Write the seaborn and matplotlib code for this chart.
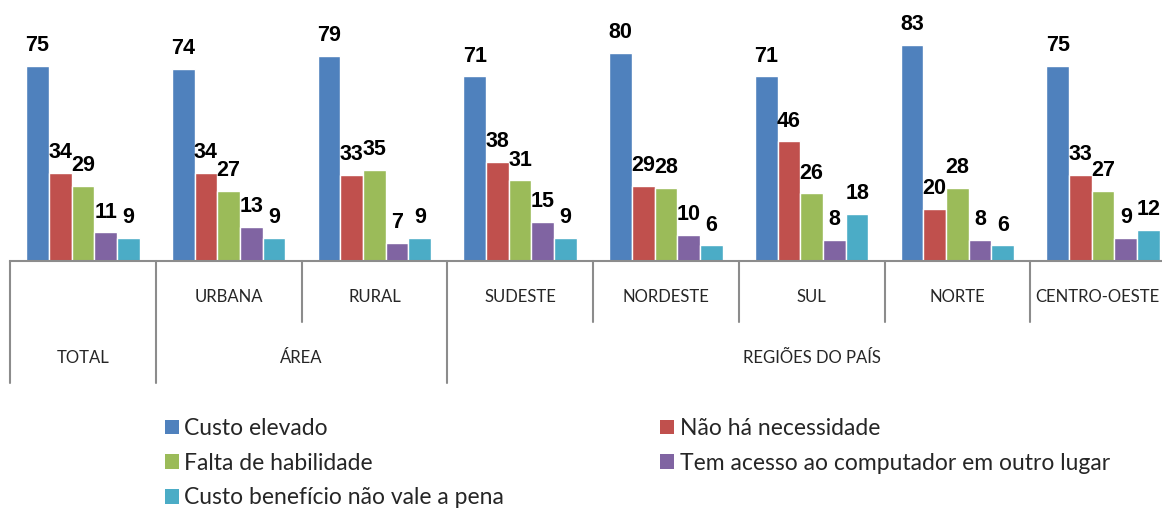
import matplotlib
matplotlib.use("Agg")
import matplotlib.pyplot as plt
import matplotlib.transforms as mtransforms
from matplotlib.patches import Patch
import seaborn as sns
import pandas as pd

categories = ["TOTAL", "URBANA", "RURAL", "SUDESTE", "NORDESTE", "SUL", "NORTE", "CENTRO-OESTE"]
series = ["Custo elevado", "Não há necessidade", "Falta de habilidade",
          "Tem acesso ao computador em outro lugar", "Custo benefício não vale a pena"]
custo_elevado = [75, 74, 79, 71, 80, 71, 83, 75]
nao_ha_necessidade = [34, 34, 33, 38, 29, 46, 20, 33]
falta_habilidade = [29, 27, 35, 31, 28, 26, 28, 27]
acesso_outro_lugar = [11, 13, 7, 15, 10, 8, 8, 9]
custo_beneficio = [9, 9, 9, 9, 6, 18, 6, 12]
group_labels = ["TOTAL", "ÁREA", "REGIÕES DO PAÍS"]

colors = ["#4F81BD", "#C0504D", "#9BBB59", "#8064A2", "#4BACC6"]

values = [custo_elevado, nao_ha_necessidade, falta_habilidade, acesso_outro_lugar, custo_beneficio]
rows = []
for s, vals in zip(series, values):
    for c, v in zip(categories, vals):
        rows.append({"cat": c, "serie": s, "valor": v})
df = pd.DataFrame(rows)

sns.set_theme(style="white")
plt.rcParams["font.family"] = ["Lato", "DejaVu Sans"]

fig = plt.figure(figsize=(11.62, 5.11), dpi=100)
H = 511.0
W = 1162.0
ax = fig.add_axes([10 / W, (H - 261) / H, 1166 / W, 260 / H])

sns.barplot(data=df, x="cat", y="valor", hue="serie", order=categories,
            hue_order=series, palette=colors, width=0.78, saturation=1,
            ax=ax, legend=False)

for cont in ax.containers:
    ax.bar_label(cont, padding=7, fontsize=15.5, fontweight="bold", color="black",
                 family=["Liberation Sans", "DejaVu Sans"])

ax.set_ylim(0, 100)
ax.set_xlim(-0.5, len(categories) - 0.5)
ax.set_xlabel("")
ax.set_ylabel("")
ax.set_yticks([])
ax.set_xticks([])
for sp in ["top", "right", "left"]:
    ax.spines[sp].set_visible(False)
ax.spines["bottom"].set_color("#8c8c8c")
ax.spines["bottom"].set_linewidth(1.5)

trans = mtransforms.blended_transform_factory(ax.transData, ax.transAxes)
y_full = -(383 - 261) / 260
y_short = -(322 - 261) / 260
full_bounds = [-0.5, 0.5, 2.5]
short_bounds = [1.5, 3.5, 4.5, 5.5, 6.5]
for b in full_bounds:
    ax.plot([b, b], [0, y_full], transform=trans, color="#8c8c8c", lw=1.5, clip_on=False)
for b in short_bounds:
    ax.plot([b, b], [0, y_short], transform=trans, color="#8c8c8c", lw=1.5, clip_on=False)

y_row1 = -(297 - 261) / 260
y_row2 = -(358 - 261) / 260
for i, c in enumerate(categories):
    if i == 0:
        continue
    if i == len(categories) - 1:
        fig.text(1160 / W, 1 - 297 / H, c, ha="right", va="center", fontsize=12)
    else:
        ax.text(i, y_row1, c, transform=trans, ha="center", va="center", fontsize=12)
ax.text(0, y_row2, group_labels[0], transform=trans, ha="center", va="center", fontsize=12)
ax.text(1.5, y_row2, group_labels[1], transform=trans, ha="center", va="center", fontsize=12)
ax.text(5.0, y_row2, group_labels[2], transform=trans, ha="center", va="center", fontsize=12)

handles = [Patch(facecolor=col, edgecolor="none") for col in colors]
order = [0, 2, 4, 1, 3]
fig.legend([handles[i] for i in order], [series[i] for i in order],
           ncol=2, loc="upper left", bbox_to_anchor=(165 / W, 1 - 418 / H),
           frameon=False, fontsize=16.5, handlelength=0.6, handleheight=0.6,
           handletextpad=0.25, columnspacing=6.8, labelspacing=0.6,
           borderpad=0, borderaxespad=0)

fig.savefig("out.png", dpi=100)
